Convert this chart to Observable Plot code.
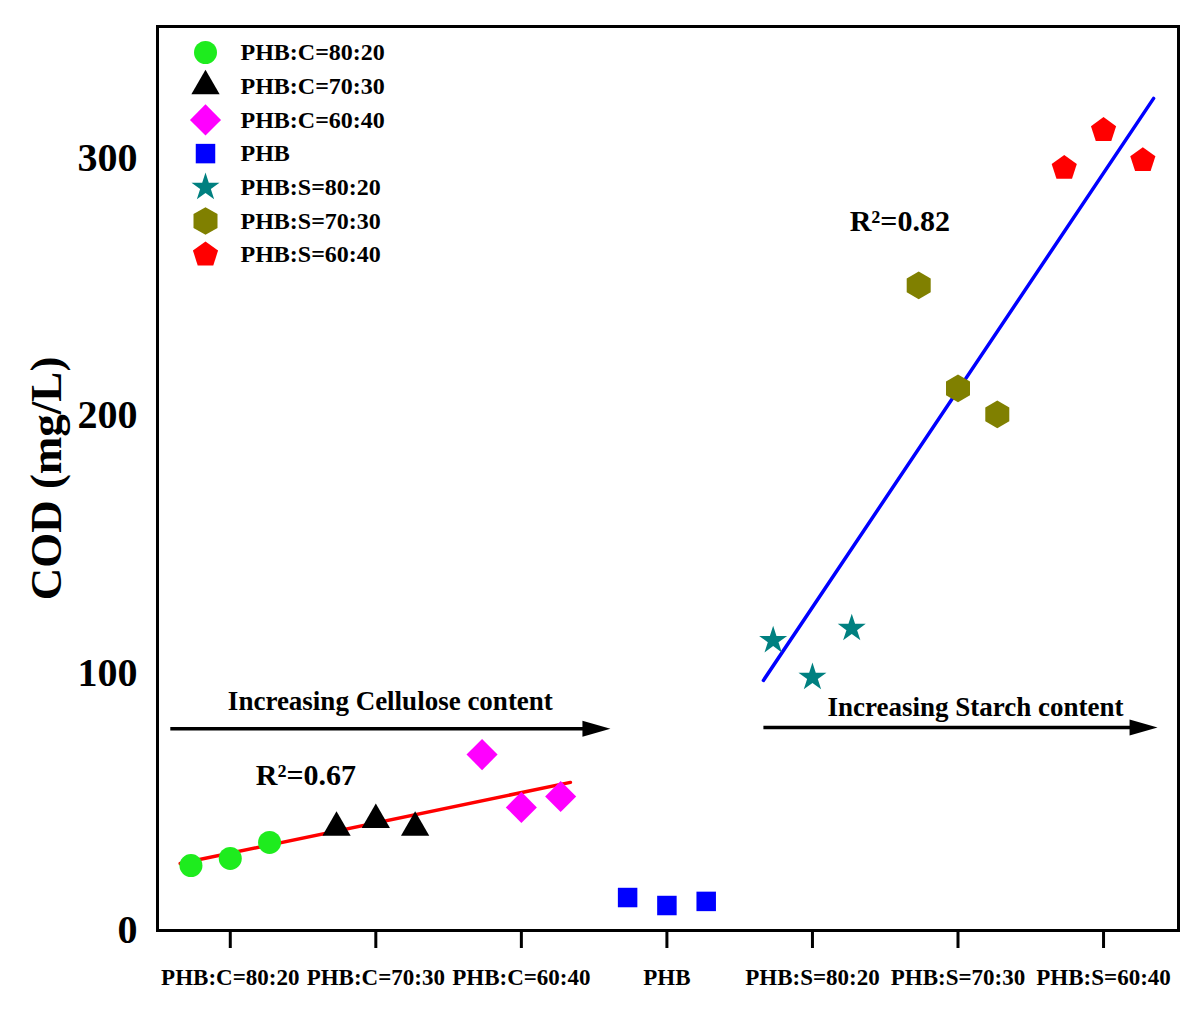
<!DOCTYPE html>
<html><head><meta charset="utf-8">
<script src="https://cdn.jsdelivr.net/npm/d3@7"></script>
<script src="https://cdn.jsdelivr.net/npm/@observablehq/plot@0.6"></script>
<style>body{margin:0;background:#fff;}</style>
</head><body><div id="chart"></div>
<script>
// ---- data ----
const categories = ["PHB:C=80:20","PHB:C=70:30","PHB:C=60:40","PHB","PHB:S=80:20","PHB:S=70:30","PHB:S=60:40"];
const categoryPos = [1,2,3,4,5,6,7];
const replicateOffset = [-0.27, 0, 0.27];
const codC8020 = [25.2, 28.0, 34.2];
const codC7030 = [40.0, 43.0, 40.0];
const codC6040 = [68.3, 47.8, 52.0];
const codPHB   = [12.8, 9.7, 11.3];
const codS8020 = [112.6, 98.3, 117.3];
const codS7030 = [250.5, 210.5, 200.4];
const codS6040 = [296.0, 310.7, 299.0];
const seriesValues = [codC8020, codC7030, codC6040, codPHB, codS8020, codS7030, codS6040];
const seriesColors = ["#1eec1e","#000000","#ff00ff","#0000ff","#008080","#808000","#ff0000"];
const yTicks = [0, 100, 200, 300];
// fitted regression lines (end points)
const cellFitX = [0.656, 3.337], cellFitY = [26.0, 57.5];
const starchFitX = [4.663, 7.344], starchFitY = [97.1, 323.1];
const cellR2 = "R²=0.67", starchR2 = "R²=0.82";
// annotation arrows
const cellArrowX = [0.588, 3.612], cellArrowY = 78.3;
const starchArrowX = [4.663, 7.371], starchArrowY = 78.8;
const cellArrowText = "Increasing Cellulose content";
const starchArrowText = "Increasing Starch content";
const cellTextPos = [2.1, 88.8], starchTextPos = [6.12, 86.8];
const cellR2Pos = [1.52, 60.4], starchR2Pos = [5.6, 275.5];

// ---- symbols ----
const pentagon = { draw(ctx, size) {
  const R = Math.sqrt(size / 2.3776);
  for (let k = 0; k < 5; k++) {
    const a = -Math.PI/2 + k*2*Math.PI/5;
    const x = R*Math.cos(a), y = R*Math.sin(a);
    if (k) ctx.lineTo(x, y); else ctx.moveTo(x, y);
  }
  ctx.closePath();
}};
const arrowHead = { draw(ctx) {
  ctx.moveTo(0, 0); ctx.lineTo(-28, -8); ctx.lineTo(-28, 8); ctx.closePath();
}};
const seriesSymbols = ["circle","triangle","diamond2","square","star","hexagon",pentagon];
const seriesR = [11.5, 10.5, 14, 11, 8.8, 12, 11.5];

const points = [];
seriesValues.forEach((vals, i) => vals.forEach((v, j) => points.push({s: i, x: categoryPos[i] + replicateOffset[j], y: v})));

const marks = [];
marks.push(Plot.frame({stroke: "black", strokeWidth: 3}));
// regression lines
marks.push(Plot.line(cellFitX.map((x,i)=>({x, y: cellFitY[i]})), {x:"x", y:"y", stroke:"#ff0000", strokeWidth:3.5}));
marks.push(Plot.line(starchFitX.map((x,i)=>({x, y: starchFitY[i]})), {x:"x", y:"y", stroke:"#0000ff", strokeWidth:3.5}));
// points
seriesValues.forEach((_, i) => {
  marks.push(Plot.dot(points.filter(d => d.s === i), {x:"x", y:"y", symbol: seriesSymbols[i], r: seriesR[i], fill: seriesColors[i], stroke: "none"}));
});
// arrows
[[cellArrowX, cellArrowY],[starchArrowX, starchArrowY]].forEach(([xs, y]) => {
  marks.push(Plot.link([{x1: xs[0], x2: xs[1] - 0.1, y}], {x1:"x1", x2:"x2", y1:"y", y2:"y", stroke:"black", strokeWidth:3.5}));
  marks.push(Plot.dot([{x: xs[1], y}], {x:"x", y:"y", symbol: arrowHead, fill:"black", stroke:"none"}));
});
marks.push(Plot.text([cellArrowText], {x: cellTextPos[0], y: cellTextPos[1], fontSize: 27}));
marks.push(Plot.text([starchArrowText], {x: starchTextPos[0], y: starchTextPos[1], fontSize: 27}));
marks.push(Plot.text([cellR2], {x: cellR2Pos[0], y: cellR2Pos[1], fontSize: 30}));
marks.push(Plot.text([starchR2], {x: starchR2Pos[0], y: starchR2Pos[1], fontSize: 30}));
// legend
categories.forEach((c, i) => {
  marks.push(Plot.dot([0], {frameAnchor: "top-left", dx: 48, dy: 26 + 33.7*i, symbol: seriesSymbols[i], r: seriesR[i], fill: seriesColors[i], stroke: "none"}));
  marks.push(Plot.text([c], {frameAnchor: "top-left", dx: 83, dy: 26 + 33.7*i, textAnchor: "start", lineAnchor: "middle", fontSize: 24}));
});
// axes
marks.push(Plot.axisX({ticks: categoryPos, tickFormat: i => categories[i-1], tickSize: 18, tickPadding: 20, fontSize: 23, strokeWidth: 3, label: null}));
marks.push(Plot.axisY({ticks: yTicks, tickSize: 0, tickPadding: 20, fontSize: 40, label: null}));
marks.push(Plot.text(["COD (mg/L)"], {frameAnchor: "left", dx: -111, rotate: -90, textAnchor: "middle", fontSize: 45}));

const chart = Plot.plot({
  width: 1200, height: 1009,
  marginLeft: 157, marginRight: 22, marginTop: 26, marginBottom: 79,
  x: {domain: [0.5, 7.515]},
  y: {domain: [0, 351]},
  style: {fontFamily: "'Liberation Serif', 'Times New Roman', serif", fontWeight: "bold", color: "black", background: "white", overflow: "visible"},
  marks
});
document.getElementById("chart").appendChild(chart);
</script>
</body></html>
